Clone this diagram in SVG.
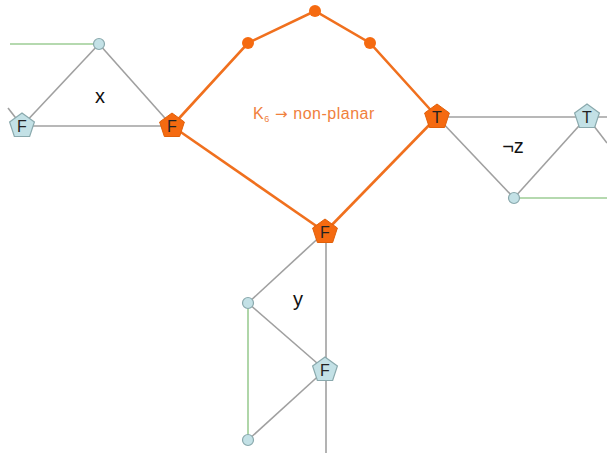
<svg xmlns="http://www.w3.org/2000/svg" xmlns:xlink="http://www.w3.org/1999/xlink" width="607" height="453" viewBox="0 0 607 453">
<style>
.g{stroke:#a0a0a0;stroke-width:1.6;fill:none}
.gr{stroke:#9ccc94;stroke-width:1.6;fill:none}
.o{stroke:#f0701e;stroke-width:2.6;fill:none}
.od{fill:#f56a10}
.bc{fill:#c3e1e6;stroke:#8aa9ad;stroke-width:1.2}
.op{fill:#f56a10;stroke:#e0600a;stroke-width:1}
.bp{fill:#c3e1e6;stroke:#8aa9ad;stroke-width:1.2}
.lt{font-family:"Liberation Sans",Arial,sans-serif;font-size:16px;fill:#222;text-anchor:middle}
.lb{font-family:"Liberation Sans",Arial,sans-serif;font-size:20px;fill:#111;text-anchor:middle}
.k{font-family:"Liberation Sans",Arial,sans-serif;font-size:16px;fill:#f0803c;letter-spacing:0.5px}
</style>
<defs>
<polygon id="pent" points="0,-13 12.4,-4 7.65,10.5 -7.65,10.5 -12.4,-4"/>
</defs>
<g id="connectors">
<line class="gr" x1="10" y1="44" x2="99" y2="44"/>
<line class="g" x1="99" y1="44" x2="22" y2="126"/>
<line class="g" x1="99" y1="44" x2="172" y2="126"/>
<line class="g" x1="22" y1="126" x2="172" y2="126"/>
<line class="g" x1="8" y1="108" x2="22" y2="126"/>
<polyline class="o" points="172,126 248,43 315,11 370,43 437,117"/>
<line class="o" x1="172" y1="126" x2="325" y2="232"/>
<line class="o" x1="437" y1="117" x2="325" y2="232"/>
<line class="g" x1="437" y1="117" x2="607" y2="117"/>
<line class="g" x1="437" y1="117" x2="514" y2="198"/>
<line class="g" x1="514" y1="198" x2="587" y2="117"/>
<line class="g" x1="587" y1="117" x2="607" y2="143"/>
<line class="gr" x1="514" y1="198" x2="607" y2="198"/>
<line class="g" x1="326" y1="232" x2="326" y2="453"/>
<line class="g" x1="325" y1="232" x2="248" y2="303"/>
<line class="g" x1="248" y1="303" x2="325" y2="370"/>
<line class="g" x1="325" y1="370" x2="248" y2="440"/>
<line class="gr" x1="248" y1="303" x2="248" y2="440"/>
</g>
<g id="n_x_top"><circle class="bc" cx="99" cy="44" r="5.5"/></g>
<g id="n_x_F"><use xlink:href="#pent" class="bp" x="22" y="126"/><text class="lt" x="22" y="131.5">F</text></g>
<g id="n_F_left"><use xlink:href="#pent" class="op" x="172" y="126"/><text class="lt" x="172" y="131.5">F</text></g>
<g id="n_o1"><circle class="od" cx="248" cy="43" r="6"/></g>
<g id="n_o2"><circle class="od" cx="315" cy="11" r="6"/></g>
<g id="n_o3"><circle class="od" cx="370" cy="43" r="6"/></g>
<g id="n_T_orange"><use xlink:href="#pent" class="op" x="437" y="117"/><text class="lt" x="437" y="122.5">T</text></g>
<g id="n_T_blue"><use xlink:href="#pent" class="bp" x="587" y="117"/><text class="lt" x="587" y="122.5">T</text></g>
<g id="n_z_bot"><circle class="bc" cx="514" cy="198" r="5.5"/></g>
<g id="n_F_bottom"><use xlink:href="#pent" class="op" x="325" y="232"/><text class="lt" x="325" y="237.5">F</text></g>
<g id="n_y_top"><circle class="bc" cx="248" cy="303" r="5.5"/></g>
<g id="n_y_F"><use xlink:href="#pent" class="bp" x="325" y="370"/><text class="lt" x="325" y="375.5">F</text></g>
<g id="n_y_bot"><circle class="bc" cx="248" cy="440" r="5.5"/></g>
<g id="labels">
<text class="lb" x="100" y="103">x</text>
<text class="lb" x="513" y="153">¬z</text>
<text class="lb" x="298" y="306">y</text>
<text class="k" x="253" y="119">K<tspan font-size="9" dy="3">6</tspan><tspan dy="-3" font-family="DejaVu Sans" font-size="15"> → </tspan>non-planar</text>
</g>
</svg>
